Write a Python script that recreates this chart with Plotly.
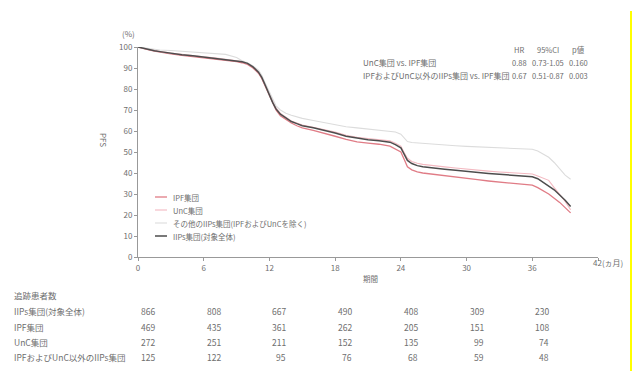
import plotly.graph_objects as go

# ---- data ----
months = [0, 0.5, 1, 1.5, 2, 3, 4, 5, 6, 7, 8, 9, 9.5, 10, 10.5, 11, 11.3, 11.6, 12, 12.3,
          12.6, 13, 13.5, 14, 14.5, 15, 16, 17, 18, 19, 20, 21, 22, 23, 23.5, 24, 24.3, 24.6,
          25, 25.5, 26, 27, 28, 29, 30, 31, 32, 33, 34, 35, 36, 36.5, 37, 37.5, 38, 38.5, 39, 39.5]

total_iips = [100, 99.3, 98.8, 98.2, 97.8, 97, 96.3, 95.8, 95.2, 94.8, 94.2, 93.5, 93, 92.2, 90.5,
              88, 85.5, 82, 77, 73.5, 70.5, 68, 66.3, 64.5, 63.5, 62.5, 61.5, 60.3, 59, 57.5, 56.5,
              55.8, 55.3, 54.7, 53.5, 52, 49, 46, 44.5, 43.5, 43, 42.3, 41.8, 41.3, 40.7, 40.2,
              39.8, 39.4, 39, 38.6, 38.2, 37.3, 35.5, 34, 32, 29.5, 27, 24]

ipf = [100, 99.2, 98.6, 98, 97.5, 96.7, 96, 95.4, 94.9, 94.4, 93.8, 93, 92.5, 91.7, 90, 87.5, 85,
       81.5, 76.5, 73, 70, 67.3, 65.5, 63.8, 62.5, 61.5, 60.3, 59, 57.5, 56, 54.8, 54.2, 53.7, 52.8,
       51.5, 50, 46.5, 43, 41.5, 40.5, 40, 39.3, 38.6, 38, 37.4, 36.8, 36.2, 35.7, 35.2, 34.8, 34.2,
       33, 31.5, 30, 28, 26, 23.5, 21]

unc = [100, 99.4, 98.9, 98.3, 97.9, 97.1, 96.4, 95.9, 95.3, 94.9, 94.3, 93.6, 93.1, 92.3, 90.7,
       88.3, 85.8, 82.3, 77.5, 74, 71, 68.4, 66.6, 64.8, 63.8, 62.8, 61.8, 60.7, 59.5, 58, 57,
       56.4, 55.9, 55.3, 54.2, 52.8, 49.8, 47, 45.5, 44.6, 44.1, 43.4, 42.9, 42.4, 41.8, 41.3,
       40.9, 40.5, 40.2, 39.8, 39.5, 38.6, 37.5, 36.5, 33, 30, 26.5, 22.5]

others = [100, 99.6, 99.2, 98.9, 98.6, 98.3, 98, 97.6, 97.3, 97, 96.5, 95, 93.5, 92.5, 91, 89, 86.5,
          83, 78.5, 75, 72, 70, 68.5, 67.5, 66.8, 66, 65, 64, 63, 62, 61.5, 61, 60.5, 60, 59.5, 58.5,
          56.5, 55, 54.5, 54.3, 54, 53.5, 53.2, 53, 52.7, 52.5, 52.3, 52, 51.8, 51.6, 51.3, 50.5,
          49, 47.5, 45, 42, 39, 37]

series_names = ["IPF集団", "UnC集団", "その他のIIPs集団(IPFおよびUnCを除く)", "IIPs集団(対象全体)"]

tick_vals = [0, 6, 12, 18, 24, 30, 36, 42]
tick_text = ["0", "6", "12", "18", "24", "30", "36", ""]

risk_times = [0, 6, 12, 18, 24, 30, 36]
risk_labels = ["IIPs集団(対象全体)", "IPF集団", "UnC集団", "IPFおよびUnC以外のIIPs集団"]
risk_total = [866, 808, 667, 490, 408, 309, 230]
risk_ipf = [469, 435, 361, 262, 205, 151, 108]
risk_unc = [272, 251, 211, 152, 135, 99, 74]
risk_other = [125, 122, 95, 76, 68, 59, 48]

hr_rows = ["UnC集団 vs. IPF集団", "IPFおよびUnC以外のIIPs集団 vs. IPF集団"]
hr_vals = ["0.88", "0.67"]
hr_ci = ["0.73-1.05", "0.51-0.87"]
hr_p = ["0.160", "0.003"]

FONT = "Noto Sans CJK JP"
TXT = "#6e6e6e"

# plot area geometry (pixels)
L, R, T, B = 138, 36, 47, 114
W, H = 634, 371
PW, PH = W - L - R, H - T - B


def px(x):
    return (x - L) / PW


def py(y):
    return (H - B - y) / PH


fig = go.Figure()
colors = ["#e07c86", "#f3b9c1", "#dcdcdc", "#4d4d4d"]
widths = [1.3, 1.1, 1.1, 1.5]
for name, ys, c, w in zip(series_names, [ipf, unc, others, total_iips], colors, widths):
    fig.add_trace(go.Scatter(x=months, y=ys, mode="lines", name=name, showlegend=False,
                             line=dict(color=c, width=w, shape="linear")))

ann = []
shapes = []


def txt(x, y, s, size=7.5, xa="center", **kw):
    ann.append(dict(x=x, y=y, xref="paper", yref="paper", text=s, showarrow=False,
                    xanchor=xa, yanchor="middle", font=dict(size=size, color=TXT), **kw))


txt(px(128), py(33), "(%)", 8)
txt(px(104), py(140), "PFS", 8, textangle=90)
txt(px(591), py(262), "42(ヵ月)", 8, xa="left")
txt(px(370), py(278), "期間", 7.5)

# HR table
for lbl, x in [("HR", 519), ("95%CI", 548), ("p値", 578)]:
    txt(px(x), py(50), lbl, 7.5)
for i, yy in enumerate([63, 76]):
    txt(px(361), py(yy), hr_rows[i], 8, xa="left")
    txt(px(519), py(yy), hr_vals[i], 7.5)
    txt(px(548), py(yy), hr_ci[i], 7.5)
    txt(px(578), py(yy), hr_p[i], 7.5)

# manual legend
leg_y = [197, 210, 223, 236]
for name, c, w, yy in zip(series_names, colors, widths, leg_y):
    shapes.append(dict(type="line", xref="paper", yref="paper", x0=px(155), x1=px(167),
                       y0=py(yy), y1=py(yy), line=dict(color=c, width=w)))
    txt(px(171), py(yy), name, 7.5, xa="left")

# number at risk table
txt(px(12), py(295), "追跡患者数", 8.5, xa="left")
row_y = [311, 327, 342, 357]
for lbl, vals, yy in zip(risk_labels, [risk_total, risk_ipf, risk_unc, risk_other], row_y):
    txt(px(12), py(yy), lbl, 8.5, xa="left")
    for t, v in zip(risk_times, vals):
        ann.append(dict(x=t / 42, y=py(yy), xref="paper", yref="paper", text=str(v),
                        showarrow=False, xanchor="right", xshift=19, yanchor="middle",
                        font=dict(size=8.5, color=TXT)))

# yellow edge line
shapes.append(dict(type="line", xref="paper", yref="paper", x0=px(631), x1=px(631),
                   y0=py(11), y1=py(371), line=dict(color="#ffff00", width=2)))

fig.update_layout(
    width=W, height=H,
    margin=dict(l=L, r=R, t=T, b=B),
    paper_bgcolor="white", plot_bgcolor="white",
    font=dict(family=FONT, size=8, color=TXT),
    showlegend=False,
    annotations=ann,
    shapes=shapes,
)
fig.update_xaxes(range=[0, 42], tickvals=tick_vals, ticktext=tick_text, showgrid=False,
                 zeroline=False, showline=True, linecolor="#999999", linewidth=1,
                 ticks="outside", ticklen=3, tickcolor="#999999",
                 tickfont=dict(size=8, color=TXT))
fig.update_yaxes(range=[0, 100], tickvals=list(range(0, 101, 10)), showgrid=False,
                 zeroline=False, showline=True, linecolor="#999999", linewidth=1,
                 ticks="outside", ticklen=3, tickcolor="#999999",
                 tickfont=dict(size=8, color=TXT))

fig.write_html("out.html", config={"displayModeBar": False},
               post_script="document.body.style.margin='0';")
